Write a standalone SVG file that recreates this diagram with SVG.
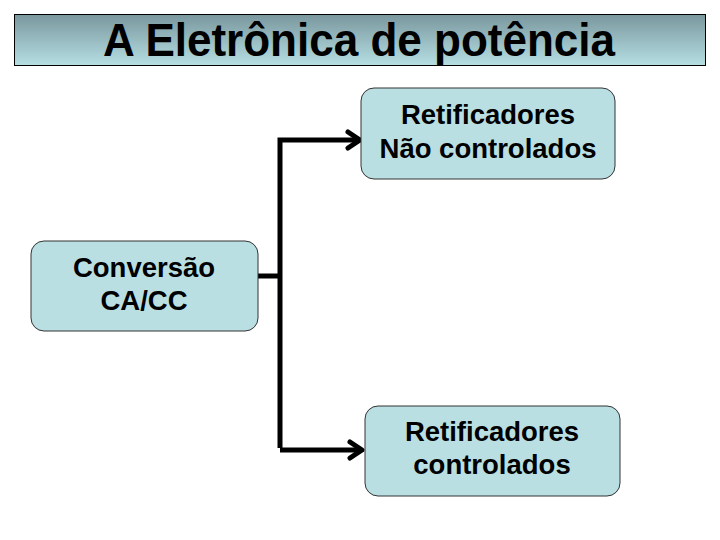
<svg xmlns="http://www.w3.org/2000/svg" width="720" height="540" viewBox="0 0 720 540">
  <defs>
    <linearGradient id="tg" x1="0" y1="0" x2="0" y2="1">
      <stop offset="0" stop-color="#7a979e"/>
      <stop offset="1" stop-color="#b5dfe3"/>
    </linearGradient>
    <marker id="arr" viewBox="0 0 18 22" refX="15" refY="11" markerWidth="18" markerHeight="22" markerUnits="userSpaceOnUse" orient="auto">
      <path d="M3,3 L15,11 L3,19" fill="none" stroke="#000" stroke-width="5" stroke-linecap="round" stroke-linejoin="round"/>
    </marker>
    <style>
      .box { fill: #b9dfe3; stroke: #333; stroke-width: 1; }
      .lbl { font-family: "Liberation Sans", Arial, sans-serif; font-size: 27.5px; font-weight: bold; fill: #000; text-anchor: middle; }
      .conn { fill: none; stroke: #000; stroke-width: 5; }
      .title { font-family: "Liberation Sans", Arial, sans-serif; font-size: 46px; font-weight: bold; fill: #000; }
    </style>
  </defs>
  <rect width="720" height="540" fill="#fff"/>
  <g id="title">
    <rect x="14.5" y="14.5" width="691" height="51" fill="url(#tg)" stroke="#000" stroke-width="1"/>
    <text class="title" x="103" y="56" textLength="512" lengthAdjust="spacingAndGlyphs">A Eletrônica de potência</text>
  </g>
  <g id="connectors">
    <path class="conn" d="M258,276 H280"/>
    <path class="conn" d="M280,448 V140 H360" marker-end="url(#arr)"/>
    <path class="conn" d="M280,450 H362" marker-end="url(#arr)"/>
  </g>
  <g id="node-nao-controlados">
    <rect class="box" x="361" y="88" width="254" height="91" rx="13"/>
    <text class="lbl" x="488" y="124">Retificadores</text>
    <text class="lbl" x="488" y="158">Não controlados</text>
  </g>
  <g id="node-conversao">
    <rect class="box" x="31" y="241" width="227" height="90" rx="13"/>
    <text class="lbl" x="144" y="277">Conversão</text>
    <text class="lbl" x="144" y="310">CA/CC</text>
  </g>
  <g id="node-controlados">
    <rect class="box" x="365" y="406" width="255" height="90" rx="13"/>
    <text class="lbl" x="492" y="441">Retificadores</text>
    <text class="lbl" x="492" y="474">controlados</text>
  </g>
</svg>
